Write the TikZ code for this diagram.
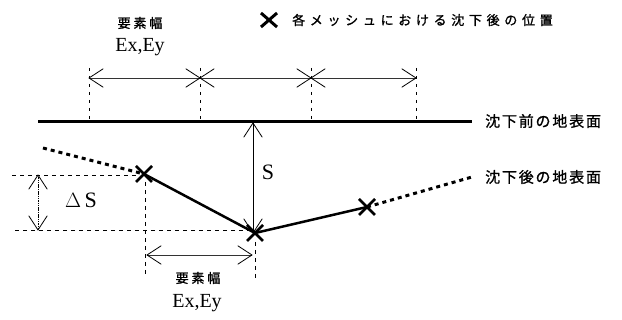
\documentclass[tikz,border=0pt]{standalone}
\usepackage{fontspec}
\setmainfont{Liberation Serif}
\newfontfamily\jpA[LetterSpace=36,FakeBold=1.2]{Noto Sans CJK JP}
\newfontfamily\jpB[LetterSpace=12,FakeBold=1.2]{Noto Sans CJK JP}
\newfontfamily\jpC[LetterSpace=22,FakeBold=1.2]{Noto Sans CJK JP}
\usetikzlibrary{calc}
\tikzset{
  dimline/.style={line width=0.7pt, black!80},
  vhead/.style={line width=0.8pt, black},
  guide/.style={line width=0.7pt, dash pattern=on 4pt off 4pt},
  topguide/.style={line width=0.6pt, dash pattern=on 3pt off 5pt},
  ground/.style={line width=3pt},
  after/.style={line width=2.5pt},
  afterdot/.style={line width=3pt, dash pattern=on 4pt off 4pt},
  xmark/.style={line width=2.6pt},
  lbl/.style={inner sep=0pt},
}
\newcommand{\xm}[2][8]{\draw[xmark] ($(#2)+(-#1,-#1)$) -- ($(#2)+(#1,#1)$) ($(#2)+(-#1,#1)$) -- ($(#2)+(#1,-#1)$);}
\newcommand{\dimarr}[3][dimline]{%
  \draw[#1] (#2) -- (#3);
  \draw[vhead] ($(#2)!17pt!33:(#3)$) -- (#2) -- ($(#2)!17pt!-33:(#3)$);
  \draw[vhead] ($(#3)!17pt!33:(#2)$) -- (#3) -- ($(#3)!17pt!-33:(#2)$);}
\begin{document}
\begin{tikzpicture}[x=1pt,y=-1pt]
\useasboundingbox (0,0) rectangle (622,320);
% legend
\coordinate (lx) at (269,20);
\draw[line width=3pt] ($(lx)+(-8,-7)$) -- ($(lx)+(8,7)$) ($(lx)+(-8,7)$) -- ($(lx)+(8,-7)$);
\node[lbl, anchor=west, font=\jpA\fontsize{13}{13}\selectfont] (leg) at (292,20) {各メッシュにおける沈下後の位置};
% top labels
\node[lbl, font=\jpC\fontsize{13}{13}\selectfont] (topw) at (140,23) {要素幅};
\node[lbl, font=\fontsize{20}{20}\selectfont] (topE) at (140,47) {Ex,Ey};
% top dimension guides
\coordinate (g1t) at (89,68);  \coordinate (g1b) at (89,120);
\coordinate (g2t) at (200,68); \coordinate (g2b) at (200,120);
\coordinate (g3t) at (311,68); \coordinate (g3b) at (311,120);
\coordinate (g4t) at (416,68); \coordinate (g4b) at (416,120);
\foreach \i in {1,2,3,4} {\draw[topguide] (g\i t) -- (g\i b);}
\coordinate (a1) at (89,78); \coordinate (a2) at (200,78);
\coordinate (a3) at (311,78); \coordinate (a4) at (416,78);
\dimarr{a1}{a2}
\dimarr{a2}{a3}
\dimarr{a3}{a4}
% ground before
\coordinate (gl) at (38,122); \coordinate (gr) at (472,122);
\draw[ground] (gl) -- (gr);
\node[lbl, anchor=west, font=\jpB\fontsize{15}{15}\selectfont] (before) at (485,121) {沈下前の地表面};
% ground after
\coordinate (p0) at (43,148);
\coordinate (p1) at (144,174);
\coordinate (p2) at (255,233);
\coordinate (p3) at (367,207);
\coordinate (p4) at (472,177);
\draw[afterdot] (p0) -- (p1);
\draw[after] (p1) -- (p2) -- (p3);
\draw[afterdot] (p3) -- (p4);
\node[lbl, anchor=west, font=\jpB\fontsize{15}{15}\selectfont] (afterlbl) at (485,177) {沈下後の地表面};
% S arrow
\coordinate (s1) at (253,123); \coordinate (s2) at (253,233);
\dimarr[line width=0.9pt]{s1}{s2}
\node[lbl, font=\fontsize{22}{22}\selectfont] (S) at (268,172) {S};
% Delta S
\coordinate (d1l) at (12,175); \coordinate (d1r) at (140,175);
\coordinate (d2l) at (15,230); \coordinate (d2r) at (250,230);
\draw[guide] (d1l) -- (d1r);
\draw[guide] (d2l) -- (d2r);
\coordinate (ds1) at (38,175); \coordinate (ds2) at (38,230);
\dimarr[line width=0.9pt, dash pattern=on 1.5pt off 0.8pt]{ds1}{ds2}
\node[lbl, font=\fontsize{22}{22}\selectfont] (dS) at (81,200) {$\Delta$\,S};
% bottom width
\coordinate (v1t) at (145,182); \coordinate (v1b) at (145,275);
\coordinate (v2t) at (255,242); \coordinate (v2b) at (255,280);
\draw[guide] (v1t) -- (v1b);
\draw[guide] (v2t) -- (v2b);
\coordinate (b1) at (147,255); \coordinate (b2) at (252,255);
\dimarr{b1}{b2}
\node[lbl, font=\jpC\fontsize{13}{13}\selectfont] (botw) at (198,278) {要素幅};
\node[lbl, font=\fontsize{20}{20}\selectfont] (botE) at (197,303) {Ex,Ey};
% crosses
\xm{p1}
\xm{p2}
\xm{p3}
\end{tikzpicture}
\end{document}
